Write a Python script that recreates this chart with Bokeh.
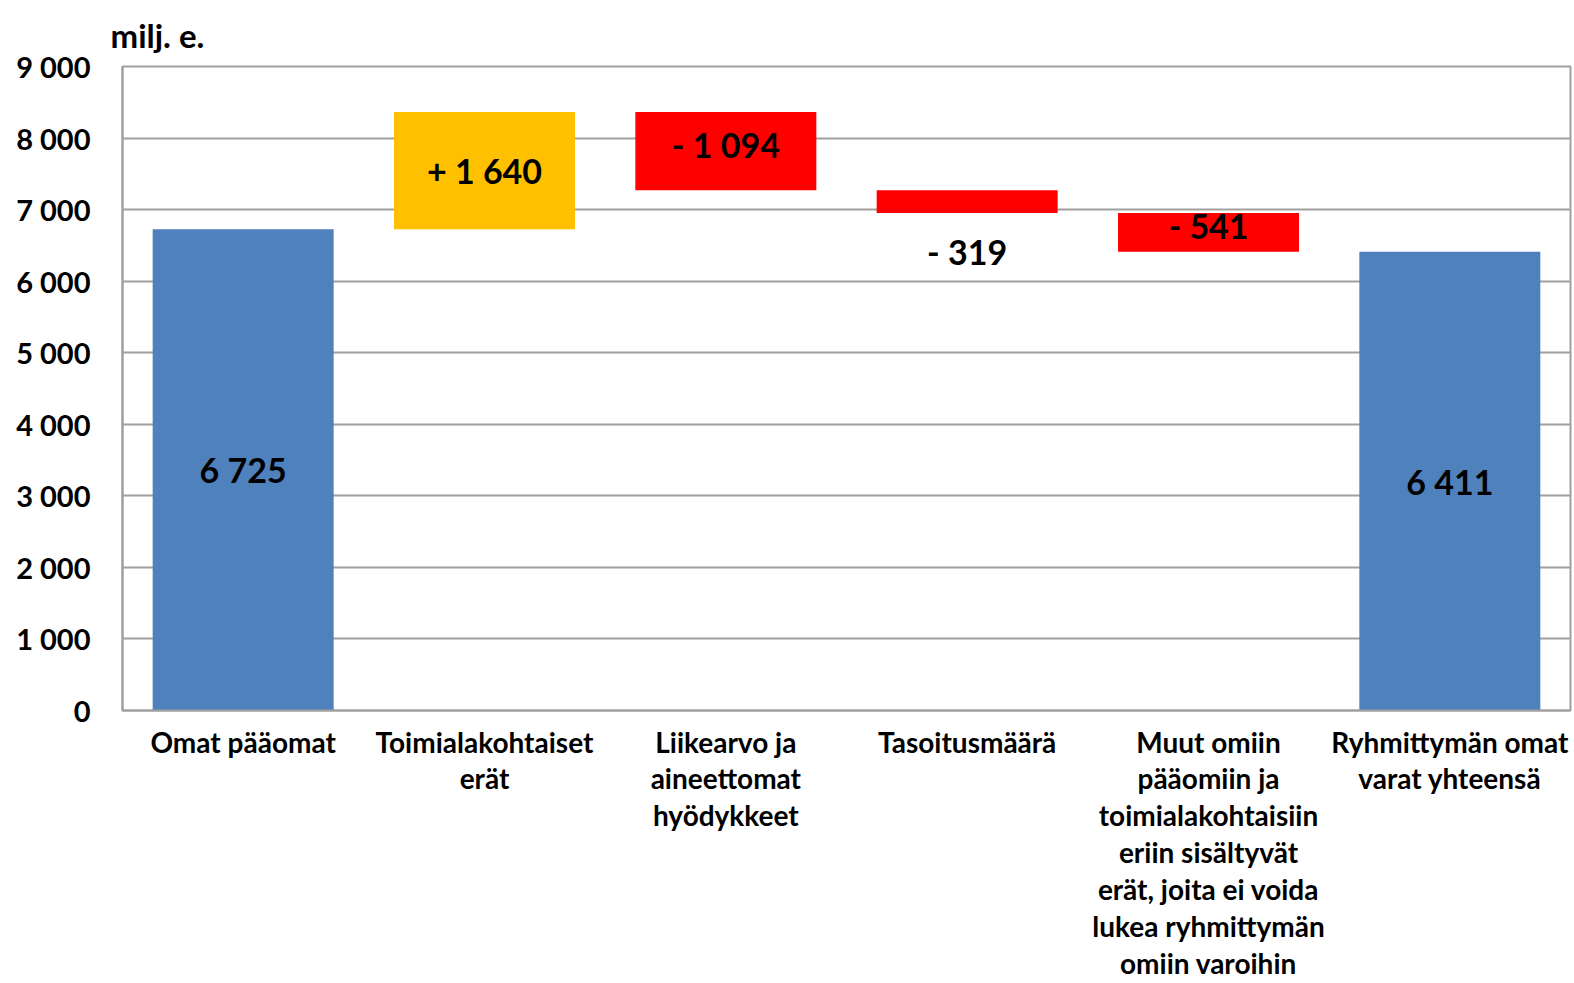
from bokeh.plotting import figure
from bokeh.models import (ColumnDataSource, LinearAxis, FixedTicker, Range1d,
                          LabelSet, Title)
from bokeh.core.properties import value
from bokeh.embed import file_html
from bokeh.resources import INLINE

# ---- data ----
categories = ["Omat pääomat", "Toimialakohtaiset\nerät", "Liikearvo ja\naineettomat\nhyödykkeet",
              "Tasoitusmäärä",
              "Muut omiin\npääomiin ja\ntoimialakohtaisiin\neriin sisältyvät\nerät, joita ei voida\nlukea ryhmittymän\nomiin varoihin",
              "Ryhmittymän omat\nvarat yhteensä"]
values = [6725, 1640, -1094, -319, -541, 6411]
is_total = [True, False, False, False, False, True]
labels = ["6 725", "+ 1 640", "- 1 094", "- 319", "- 541", "6 411"]
y_ticks = [0, 1000, 2000, 3000, 4000, 5000, 6000, 7000, 8000, 9000]
y_tick_labels = ["0", "1 000", "2 000", "3 000", "4 000", "5 000", "6 000", "7 000", "8 000", "9 000"]
unit_label = "milj. e."

FONT = "Lato"
BLUE, YELLOW, RED = "#4F81BD", "#FFC000", "#FF0000"
GRID = "#A0A0A0"

# waterfall geometry from the values
xs, bottoms, tops, colors, ly, loff = [], [], [], [], [], []
run = 0
for i, (v, t) in enumerate(zip(values, is_total)):
    if t:
        b, top = 0, v
        run = v
        c = BLUE
    else:
        b, top = sorted([run, run + v])
        run = run + v
        c = YELLOW if v > 0 else RED
    xs.append(i + 0.5)
    bottoms.append(b)
    tops.append(top)
    colors.append(c)
    if (not t) and abs(v) < 400:
        ly.append(b)
        loff.append(-38)
    elif (not t) and v < 0:
        ly.append((b + top) / 2)
        loff.append(7)
    else:
        ly.append((b + top) / 2)
        loff.append(0)

src = ColumnDataSource(dict(x=xs, bottom=bottoms, top=tops, color=colors,
                            ly=ly, loff=loff, text=labels))

p = figure(width=1573, height=983, output_backend="svg", toolbar_location=None,
           x_range=Range1d(0, 6), y_range=Range1d(0, 9000),
           x_axis_location=None, y_axis_location=None,
           min_border_left=122, min_border_right=3, min_border_top=66,
           min_border_bottom=272)
p.background_fill_color = "white"
p.border_fill_color = "white"
p.outline_line_color = GRID
p.outline_line_width = 2

p.vbar(x="x", bottom="bottom", top="top", width=0.75, color="color",
       line_color=None, source=src)

# y axis
yax = LinearAxis(ticker=FixedTicker(ticks=y_ticks),
                 major_label_overrides={t: l for t, l in zip(y_ticks, y_tick_labels)})
yax.axis_line_color = GRID
yax.axis_line_width = 2
yax.major_tick_line_color = None
yax.minor_tick_line_color = None
yax.major_label_text_font = FONT
yax.major_label_text_font_style = "bold"
yax.major_label_text_font_size = "29px"
yax.major_label_text_color = "black"
yax.major_label_standoff = 26
p.add_layout(yax, "left")

# x axis
xax = LinearAxis(ticker=FixedTicker(ticks=xs),
                 major_label_overrides={x: c for x, c in zip(xs, categories)})
xax.axis_line_color = GRID
xax.axis_line_width = 2
xax.major_tick_line_color = None
xax.minor_tick_line_color = None
xax.major_label_text_font = FONT
xax.major_label_text_font_style = "bold"
xax.major_label_text_font_size = "28px"
xax.major_label_text_color = "black"
xax.major_label_text_line_height = 1.086
xax.major_label_standoff = 8
p.add_layout(xax, "below")

p.xgrid.visible = False
p.ygrid.ticker = FixedTicker(ticks=y_ticks)
p.ygrid.grid_line_color = GRID
p.ygrid.grid_line_width = 2

ls = LabelSet(x="x", y="ly", text="text", y_offset="loff", source=src,
              text_align="center", text_baseline="middle",
              text_font=value(FONT), text_font_style="bold", text_font_size="34px",
              text_color="black")
p.add_layout(ls)

title = Title(text=unit_label, align="left", offset=-12, vertical_align="top",
              text_font=FONT, text_font_style="bold", text_font_size="33px",
              text_color="black", standoff=20)
p.add_layout(title, "above")

open("out.html", "w").write(file_html(p, INLINE))
